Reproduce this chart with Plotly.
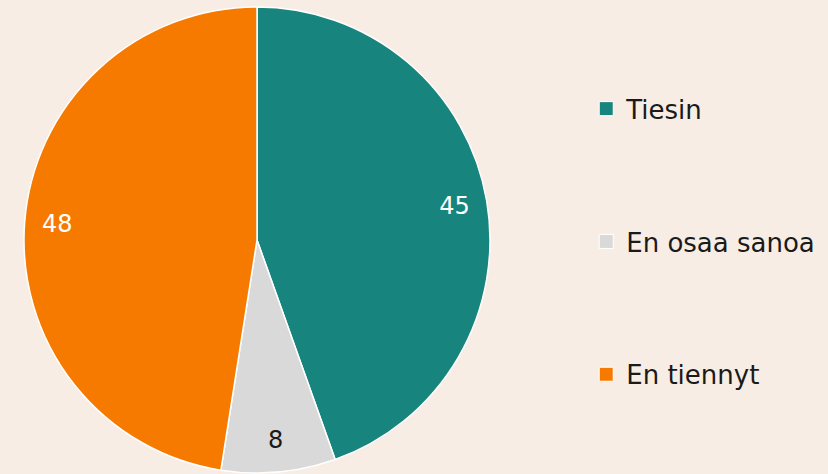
import plotly.graph_objects as go

labels = ["Tiesin", "En osaa sanoa", "En tiennyt"]
values = [45, 8, 48]
colors = ["#17857D", "#D9D9D9", "#F77A00"]
text_colors = ["#FFFFFF", "#1A1A1A", "#FFFFFF"]

W, H = 828, 474
dom = dict(x=[23 / W, 491 / W], y=[1 - 473 / H, 1 - 7 / H])
fig = go.Figure()

fig.add_trace(go.Pie(
    labels=labels, values=values, sort=False, direction="clockwise", rotation=0,
    marker=dict(colors=colors, line=dict(color="#FFFFFF", width=1.5)),
    textinfo="none", domain=dom, showlegend=False, hoverinfo="label+value",
))

# transparent ring on top, only to place the value labels near the rim
fig.add_trace(go.Pie(
    labels=labels, values=values, sort=False, direction="clockwise", rotation=0,
    hole=0.72, marker=dict(colors=["rgba(0,0,0,0)"] * 3, line=dict(width=0)),
    textinfo="value", textposition="inside", insidetextorientation="horizontal",
    textfont=dict(family="DejaVu Sans", size=24, color=text_colors),
    domain=dom, showlegend=False, hoverinfo="skip",
))

# legend entries with wide spacing
for i, (lab, col) in enumerate(zip(labels, colors)):
    fig.add_trace(go.Scatter(
        x=[None], y=[None], mode="markers", name=lab,
        marker=dict(symbol="square", size=14, color=col, line=dict(color="#FFFFFF", width=1)),
        legendgroup=f"g{i}",
    ))

fig.update_layout(
    width=W, height=H,
    margin=dict(l=0, r=0, t=0, b=0),
    paper_bgcolor="#F7EDE4", plot_bgcolor="#F7EDE4",
    xaxis=dict(visible=False), yaxis=dict(visible=False),
    legend=dict(
        x=0.708, y=0.49, xanchor="left", yanchor="middle",
        font=dict(family="DejaVu Sans", size=26, color="#1A1A1A"),
        tracegroupgap=96, itemsizing="trace", itemwidth=30,
        bgcolor="rgba(0,0,0,0)",
    ),
)

fig.write_html("out.html", config={"displayModeBar": False},
               post_script="document.body.style.margin='0';")
